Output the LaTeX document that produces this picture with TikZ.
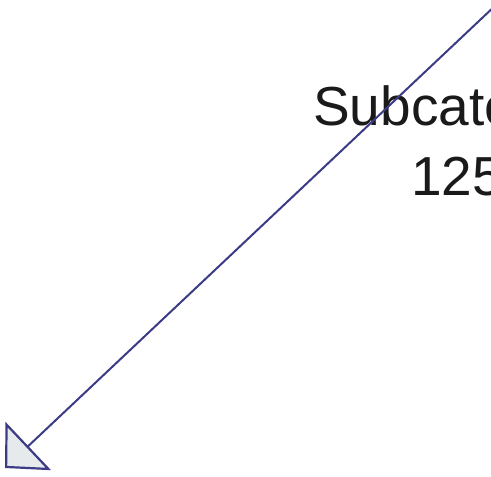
\documentclass[tikz,border=0pt]{standalone}
\usepackage{fontspec}
\setmainfont{Liberation Sans}
\usetikzlibrary{arrows.meta}
\definecolor{cline}{HTML}{3B3B86}
\definecolor{chead}{HTML}{E6EAEC}
\definecolor{ctext}{HTML}{1A1A1A}

\begin{document}
\begin{tikzpicture}[x=1pt,y=-1pt]
  \useasboundingbox (0,0) rectangle (491,477);
  \clip (0,0) rectangle (491,477);
  \node[text=ctext,font=\fontsize{55}{66}\selectfont,anchor=base west,inner sep=0pt] (subcat) at (313,125) {Subcate};
  \node[text=ctext,font=\fontsize{55}{66}\selectfont,anchor=base west,inner sep=0pt] (count) at (411,195) {125};
  \coordinate (src) at (497,4);
  \coordinate (tip) at (5,468);
  \draw[cline,line width=2pt,
    -{Triangle[length=32pt,width=66pt,fill=chead,line width=2.2pt]}] (src) -- (tip);
\end{tikzpicture}
\end{document}
